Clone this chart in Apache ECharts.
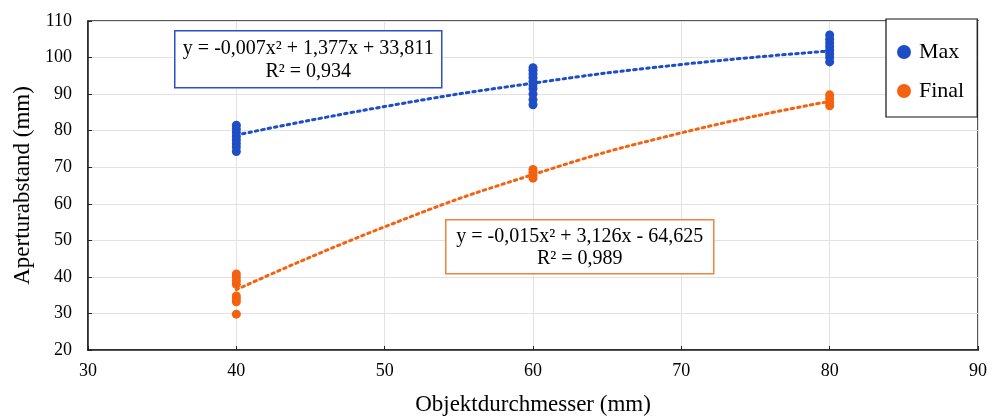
<!DOCTYPE html>
<html>
<head>
<meta charset="utf-8">
<script src="https://cdn.jsdelivr.net/npm/echarts@6/dist/echarts.min.js"></script>
<style>
    html, body { margin: 0; padding: 0; background: #fff; }
    #chart { width: 998px; height: 417px; }
</style>
</head>
<body>
<div id="chart"></div>
<script>
// Objektdurchmesser (mm) auf der x-Achse
var xDiameters = [40, 60, 80];
var maxValues = [
    [74.3, 75.5, 76.5, 77.5, 78.5, 79.5, 80.5, 81.5],
    [87.1, 88.5, 90, 91.5, 92.5, 93.5, 94.5, 95.5, 96.5, 97.2],
    [98.8, 100, 101, 102, 103, 104, 105, 106.2]
];
var finalValues = [
    [29.8, 33.2, 34, 34.8, 38, 39, 40, 40.8],
    [67, 67.8, 68.6, 69.4],
    [86.8, 87.8, 88.8, 89.8]
];
// Trendlinien (polynomisch)
var trendX = [40, 50, 60, 70, 80];
var maxTrend = [78.8, 86.6, 93, 98.1, 101.8];
var finalTrend = [36.5, 53.7, 68, 79.4, 88];

var blue = '#1d4ec6';
var orange = '#f5620f';
var font = 'Liberation Serif';

function toPoints(xs, groups) {
    var out = [];
    groups.forEach(function (vals, i) {
        vals.forEach(function (v) { out.push([xs[i], v]); });
    });
    return out;
}
function zipXY(xs, ys) {
    return xs.map(function (x, i) { return [x, ys[i]]; });
}

function eqBox(x, y, w, h, color, line1, line2) {
    return {
        type: 'group',
        left: x, top: y, z: 100,
        children: [
            { type: 'rect', z: 100, shape: { x: 0, y: 0, width: w, height: h },
              style: { fill: '#fff', stroke: color, lineWidth: 1.5 } },
            { type: 'text', z: 101, x: w / 2, y: h * 0.32,
              style: { text: line1, font: '20px "' + font + '"', fill: '#000', align: 'center', verticalAlign: 'middle' } },
            { type: 'text', z: 101, x: w / 2, y: h * 0.72,
              style: { text: line2, font: '20px "' + font + '"', fill: '#000', align: 'center', verticalAlign: 'middle' } }
        ]
    };
}

var myChart = echarts.init(document.getElementById('chart'));
var option = {
    backgroundColor: '#fff',
    animation: false,
    textStyle: { fontFamily: font },
    grid: {
        left: 88, right: 20, top: 21, bottom: 67,
        outerBoundsMode: 'none',
        containLabel: false,
        show: true, borderColor: '#222', borderWidth: 1.5
    },
    legend: {
        data: ['Max', 'Final'],
        orient: 'vertical',
        left: 886, top: 19,
        padding: [22, 13, 15, 11],
        itemGap: 17,
        itemWidth: 14, itemHeight: 14,
        icon: 'circle',
        backgroundColor: '#fff',
        borderColor: '#111', borderWidth: 1.2,
        textStyle: { fontFamily: font, fontSize: 22, color: '#000', padding: [0, 0, 0, 3] }
    },
    xAxis: {
        type: 'value',
        min: 30, max: 90, interval: 10,
        name: 'Objektdurchmesser (mm)',
        nameLocation: 'middle', nameGap: 43,
        nameTextStyle: { fontFamily: font, fontSize: 23, color: '#000' },
        axisLine: { lineStyle: { color: '#222', width: 1.5 } },
        axisTick: { inside: true, length: 4, lineStyle: { color: '#222' } },
        axisLabel: { margin: 12, fontFamily: font, fontSize: 18, color: '#000' },
        splitLine: { show: true, lineStyle: { color: '#e2e2e2', width: 1 } }
    },
    yAxis: {
        type: 'value',
        min: 20, max: 110, interval: 10,
        name: 'Aperturabstand (mm)',
        nameLocation: 'middle', nameGap: 52,
        nameTextStyle: { fontFamily: font, fontSize: 23, color: '#000' },
        axisLine: { show: true, lineStyle: { color: '#222', width: 1.5 } },
        axisTick: { show: true, inside: true, length: 4, lineStyle: { color: '#222' } },
        axisLabel: { margin: 16, fontFamily: font, fontSize: 18, color: '#000' },
        splitLine: { show: true, lineStyle: { color: '#e2e2e2', width: 1 } }
    },
    series: [
        {
            name: 'Max trend', type: 'line', smooth: true, showSymbol: false,
            data: zipXY(trendX, maxTrend), z: 1,
            lineStyle: { color: blue, width: 3, type: [2.5, 4], cap: 'round' }
        },
        {
            name: 'Final trend', type: 'line', smooth: true, showSymbol: false,
            data: zipXY(trendX, finalTrend), z: 1,
            lineStyle: { color: orange, width: 3, type: [2.5, 4], cap: 'round' }
        },
        {
            name: 'Max', type: 'scatter', symbolSize: 9, z: 3,
            itemStyle: { color: blue, opacity: 1 },
            data: toPoints(xDiameters, maxValues)
        },
        {
            name: 'Final', type: 'scatter', symbolSize: 9, z: 3,
            itemStyle: { color: orange, opacity: 1 },
            data: toPoints(xDiameters, finalValues)
        }
    ],
    graphic: [
        eqBox(174, 30, 267, 57, '#2a50c8', 'y = -0,007x² + 1,377x + 33,811', 'R² = 0,934'),
        eqBox(445, 219, 268, 54, '#f0843c', 'y = -0,015x² + 3,126x - 64,625', 'R² = 0,989')
    ]
};
myChart.setOption(option);
</script>
</body>
</html>
